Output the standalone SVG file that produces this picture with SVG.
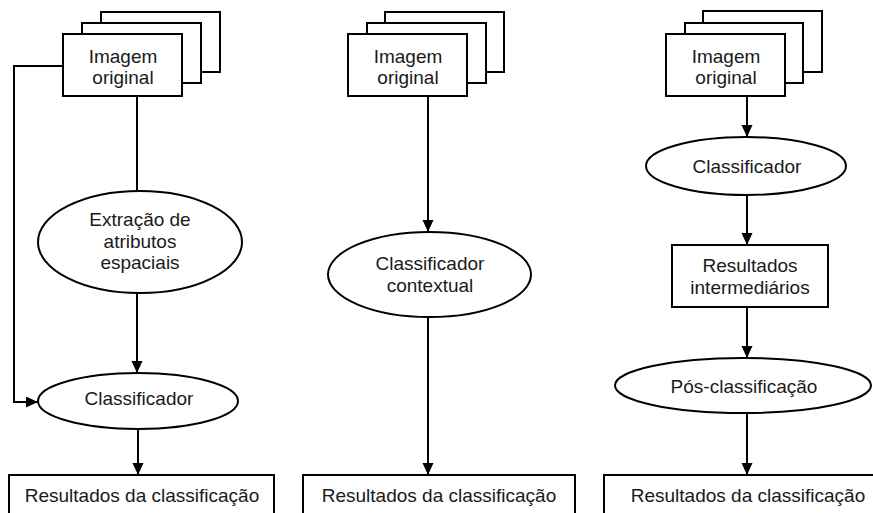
<svg xmlns="http://www.w3.org/2000/svg" width="873" height="513" viewBox="0 0 873 513">
  <style>
    .shape { fill: #fff; stroke: #000; stroke-width: 2; }
    .edge { fill: none; stroke: #000; stroke-width: 2; }
    .label { font-family: "Liberation Sans", Arial, sans-serif; font-size: 19px; fill: #1a1a1a; text-anchor: middle; }
  </style>
  <defs>
    <marker id="arrow" markerUnits="userSpaceOnUse" markerWidth="12" markerHeight="12" refX="12" refY="5.5" orient="auto">
      <path d="M0,0 L12,5.5 L0,11 z" fill="#000"/>
    </marker>
  </defs>
  <rect width="873" height="513" fill="#fff"/>

  <!-- connectors -->
  <g id="connectors">
    <!-- column 1 -->
    <path class="edge" d="M63,66 H14 V402 H38" marker-end="url(#arrow)"/>
    <path class="edge" d="M137,96 V192"/>
    <path class="edge" d="M137,293 V373" marker-end="url(#arrow)"/>
    <path class="edge" d="M138,429 V475" marker-end="url(#arrow)"/>
    <!-- column 2 -->
    <path class="edge" d="M428,96 V232" marker-end="url(#arrow)"/>
    <path class="edge" d="M428,317 V475" marker-end="url(#arrow)"/>
    <!-- column 3 -->
    <path class="edge" d="M747,96 V137" marker-end="url(#arrow)"/>
    <path class="edge" d="M747,195 V245" marker-end="url(#arrow)"/>
    <path class="edge" d="M747,307 V358" marker-end="url(#arrow)"/>
    <path class="edge" d="M747,413 V475" marker-end="url(#arrow)"/>
  </g>

  <!-- column 1 -->
  <g id="imagem1">
    <rect class="shape" x="101" y="12" width="119" height="60"/>
    <rect class="shape" x="82" y="23" width="119" height="60"/>
    <rect class="shape" x="63" y="34" width="119" height="62"/>
    <text class="label" x="123" y="62.5">Imagem</text>
    <text class="label" x="123" y="84">original</text>
  </g>
  <g id="extracao">
    <ellipse class="shape" cx="140" cy="242" rx="102" ry="51"/>
    <text class="label" x="140" y="226">Extração de</text>
    <text class="label" x="140" y="247.5">atributos</text>
    <text class="label" x="140" y="269">espaciais</text>
  </g>
  <g id="classificador1">
    <ellipse class="shape" cx="138" cy="401" rx="100" ry="28"/>
    <text class="label" x="139" y="405">Classificador</text>
  </g>
  <g id="resultados1">
    <rect class="shape" x="9" y="475" width="265" height="50"/>
    <text class="label" x="142" y="502">Resultados da classificação</text>
  </g>

  <!-- column 2 -->
  <g id="imagem2">
    <rect class="shape" x="385" y="12" width="119" height="60"/>
    <rect class="shape" x="367" y="23" width="119" height="60"/>
    <rect class="shape" x="348" y="34" width="119" height="62"/>
    <text class="label" x="408" y="62.5">Imagem</text>
    <text class="label" x="408" y="84">original</text>
  </g>
  <g id="contextual">
    <ellipse class="shape" cx="429.5" cy="274.5" rx="101.5" ry="42.5"/>
    <text class="label" x="430" y="270">Classificador</text>
    <text class="label" x="430" y="292">contextual</text>
  </g>
  <g id="resultados2">
    <rect class="shape" x="303" y="475" width="272" height="50"/>
    <text class="label" x="439" y="502">Resultados da classificação</text>
  </g>

  <!-- column 3 -->
  <g id="imagem3">
    <rect class="shape" x="703" y="11" width="119" height="61"/>
    <rect class="shape" x="685" y="23" width="118" height="60"/>
    <rect class="shape" x="666" y="34" width="119" height="62"/>
    <text class="label" x="726" y="62.5">Imagem</text>
    <text class="label" x="726" y="84">original</text>
  </g>
  <g id="classificador3">
    <ellipse class="shape" cx="746" cy="166" rx="100" ry="29"/>
    <text class="label" x="747" y="173">Classificador</text>
  </g>
  <g id="intermediarios">
    <rect class="shape" x="672" y="245" width="156" height="62"/>
    <text class="label" x="750" y="272">Resultados</text>
    <text class="label" x="750" y="293.5">intermediários</text>
  </g>
  <g id="posclassificacao">
    <ellipse class="shape" cx="743" cy="385.5" rx="128" ry="27.5"/>
    <text class="label" x="744" y="393">Pós-classificação</text>
  </g>
  <g id="resultados3">
    <rect class="shape" x="604" y="475" width="290" height="50"/>
    <text class="label" x="748" y="502">Resultados da classificação</text>
  </g>
</svg>
